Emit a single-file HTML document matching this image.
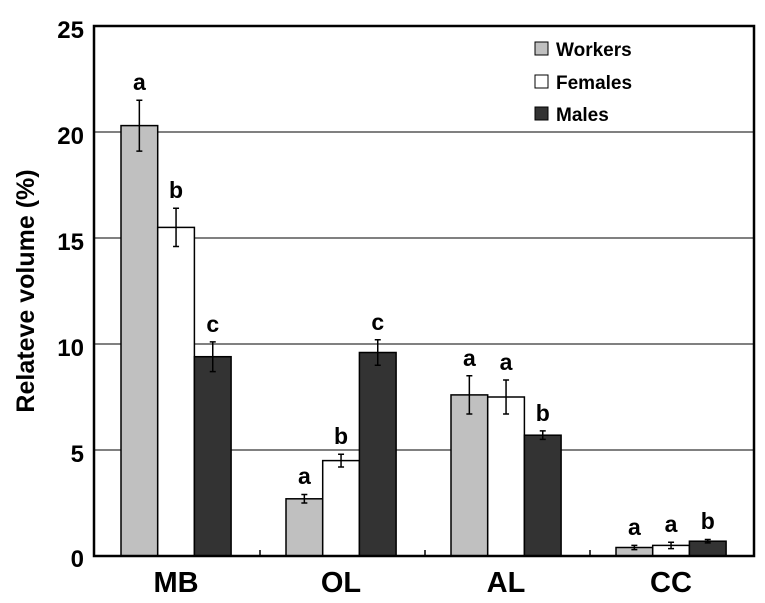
<!DOCTYPE html><html><head><style>body{margin:0;background:#fff}svg{display:block}text{font-family:"Liberation Sans",Arial,sans-serif;font-weight:bold}</style></head><body>
<svg width="765" height="603" xmlns="http://www.w3.org/2000/svg">
<g stroke="#000" stroke-width="1">
<line x1="94" y1="132" x2="754" y2="132"/><line x1="94" y1="238" x2="754" y2="238"/><line x1="94" y1="344" x2="754" y2="344"/><line x1="94" y1="450" x2="754" y2="450"/>
</g>
<g stroke="#000" stroke-width="1.5">
<rect x="121" y="125.6" width="36.7" height="430.4" fill="#c0c0c0"/>
<rect x="157.7" y="227.4" width="36.7" height="328.6" fill="#fff"/>
<rect x="194.4" y="356.7" width="36.7" height="199.3" fill="#333"/>
<rect x="286" y="498.8" width="36.7" height="57.2" fill="#c0c0c0"/>
<rect x="322.7" y="460.6" width="36.7" height="95.4" fill="#fff"/>
<rect x="359.4" y="352.5" width="36.7" height="203.5" fill="#333"/>
<rect x="451" y="394.9" width="36.7" height="161.1" fill="#c0c0c0"/>
<rect x="487.7" y="397" width="36.7" height="159" fill="#fff"/>
<rect x="524.4" y="435.2" width="36.7" height="120.8" fill="#333"/>
<rect x="616" y="547.5" width="36.7" height="8.5" fill="#c0c0c0"/>
<rect x="652.7" y="545.4" width="36.7" height="10.6" fill="#fff"/>
<rect x="689.4" y="541.2" width="36.7" height="14.8" fill="#333"/>
</g>
<g stroke="#000" stroke-width="1.5" fill="none">
<path d="M139.35 100.2V151.1M136.35 100.2h6M136.35 151.1h6"/>
<path d="M176.05 208.3V246.5M173.05 208.3h6M173.05 246.5h6"/>
<path d="M212.75 341.9V371.6M209.75 341.9h6M209.75 371.6h6"/>
<path d="M304.35 494.5V503M301.35 494.5h6M301.35 503h6"/>
<path d="M341.05 454.2V467M338.05 454.2h6M338.05 467h6"/>
<path d="M377.75 339.8V365.2M374.75 339.8h6M374.75 365.2h6"/>
<path d="M469.35 375.8V414M466.35 375.8h6M466.35 414h6"/>
<path d="M506.05 380V414M503.05 380h6M503.05 414h6"/>
<path d="M542.75 430.9V439.4M539.75 430.9h6M539.75 439.4h6"/>
<path d="M634.35 545.4V549.6M631.35 545.4h6M631.35 549.6h6"/>
<path d="M671.05 542.2V548.6M668.05 542.2h6M668.05 548.6h6"/>
<path d="M707.75 539.5V542.9M704.75 539.5h6M704.75 542.9h6"/>
</g>
<rect x="94" y="26" width="660" height="530" fill="none" stroke="#000" stroke-width="2.5"/>
<g stroke="#000" stroke-width="1.5"><line x1="260" y1="550" x2="260" y2="556"/><line x1="425" y1="550" x2="425" y2="556"/><line x1="590" y1="550" x2="590" y2="556"/></g>
<g font-size="24" text-anchor="end"><text x="84" y="38">25</text><text x="84" y="144">20</text><text x="84" y="250">15</text><text x="84" y="356">10</text><text x="84" y="462">5</text><text x="84" y="567">0</text></g>
<text transform="translate(34,291) rotate(-90)" font-size="25" text-anchor="middle">Relateve volume (%)</text>
<g font-size="29" text-anchor="middle"><text x="176" y="592">MB</text><text x="341" y="592">OL</text><text x="506" y="592">AL</text><text x="671" y="592">CC</text></g>
<g font-size="19"><rect x="535" y="42" width="13" height="13" fill="#c0c0c0" stroke="#000"/><text x="556" y="56">Workers</text>
<rect x="535" y="75" width="13" height="13" fill="#fff" stroke="#000"/><text x="556" y="89">Females</text>
<rect x="535" y="107" width="13" height="13" fill="#333" stroke="#000"/><text x="556" y="121">Males</text></g>
<g font-size="23" text-anchor="middle">
<text x="139.35" y="90">a</text><text x="176.05" y="198">b</text><text x="212.75" y="332">c</text>
<text x="304.35" y="484">a</text><text x="341.05" y="444">b</text><text x="377.75" y="330">c</text>
<text x="469.35" y="366">a</text><text x="506.05" y="370">a</text><text x="542.75" y="421">b</text>
<text x="634.35" y="535">a</text><text x="671.05" y="532">a</text><text x="707.75" y="529">b</text>
</g>
</svg></body></html>
